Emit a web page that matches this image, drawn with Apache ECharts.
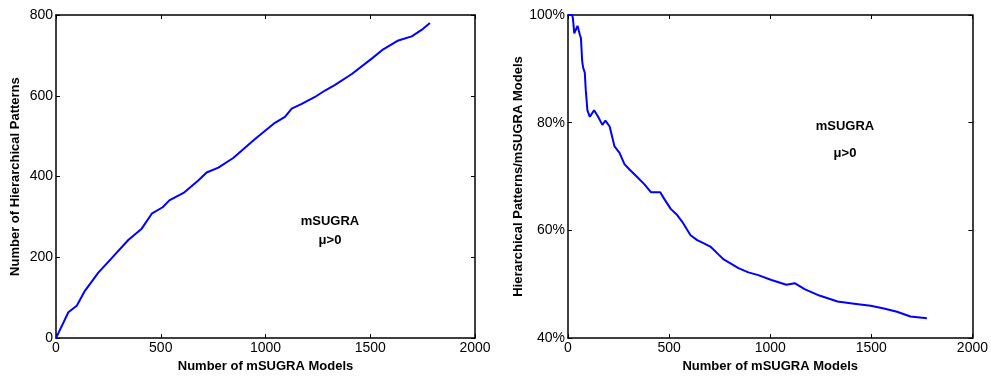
<!DOCTYPE html>
<html>
<head>
<meta charset="utf-8">
<script src="https://cdn.jsdelivr.net/npm/echarts@6/dist/echarts.min.js"></script>
<style>
    html, body { margin: 0; padding: 0; background: #fff; }
    #app-chart { width: 991px; height: 378px; }
</style>
</head>
<body>
<div id="app-chart"></div>
<script>
//======================================================================================================================
// Data
//======================================================================================================================

    var patternModels = [0, 3, 59, 99, 138, 202, 266, 345, 409, 457, 509, 541, 613, 679, 719, 775, 846, 950, 1045, 1093,
        1125, 1173, 1236, 1284, 1332, 1412, 1507, 1562, 1634, 1698, 1745, 1785];
    var patternCounts = [0, 0, 64, 80, 117, 162, 198, 243, 271, 308, 324, 341, 361, 390, 410, 422, 446, 493, 533, 548,
        568, 580, 597, 613, 627, 654, 692, 715, 737, 747, 763, 780];

    var ratioModels = [1, 20, 24, 31, 47, 59, 64, 70, 75, 83, 88, 96, 108, 129, 149, 170, 185, 206, 230, 255, 279, 304,
        337, 377, 410, 456, 475, 508, 541, 565, 606, 639, 672, 704, 745, 770, 843, 892, 941, 1006, 1080, 1121, 1170,
        1243, 1333, 1415, 1497, 1562, 1627, 1693, 1775];
    var ratioPercent = [100, 100, 99.5, 96.6, 98.0, 96.3, 95.7, 91.5, 90.2, 89.3, 86.0, 82.3, 81.1, 82.3, 81.1, 79.6,
        80.4, 79.3, 75.6, 74.4, 72.3, 71.3, 70.1, 68.6, 67.1, 67.1, 65.9, 64.0, 62.8, 61.6, 59.1, 58.2, 57.6, 57.0, 55.5,
        54.6, 53.0, 52.2, 51.7, 50.8, 49.9, 50.2, 49.1, 47.9, 46.8, 46.4, 46.0, 45.5, 44.9, 44.0, 43.7];

    var xTicks = [0, 500, 1000, 1500, 2000];
    var leftTicks = [0, 200, 400, 600, 800];
    var rightTicks = [40, 60, 80, 100];

//======================================================================================================================
// Chart
//======================================================================================================================

    var font = 'Liberation Sans, Arial, sans-serif';
    var labelStyle = { color: '#000', fontFamily: font, fontSize: 14 };
    var nameStyle = { color: '#000', fontFamily: font, fontSize: 13, fontWeight: 'bold' };

    function plain(v) { return String(v); }
    function pct(v) { return v + '%'; }

    function pairs(xs, ys) {
        return xs.map(function(v, i) { return [v, ys[i]]; });
    }

    function xAxis(grid, position, name) {
        return {
            type: 'value', gridIndex: grid, position: position,
            min: xTicks[0], max: xTicks[xTicks.length - 1], interval: 500,
            name: name, nameLocation: 'middle', nameGap: 21, nameTextStyle: nameStyle,
            axisLine: { show: true, onZero: false, lineStyle: { color: '#000', width: 1.5 } },
            axisTick: { show: true, inside: true, length: 4, lineStyle: { color: '#000' } },
            axisLabel: { show: position === 'bottom', margin: 3, formatter: plain, ...labelStyle },
            splitLine: { show: false }
        };
    }

    function yAxis(grid, position, ticks, name, fmt) {
        return {
            type: 'value', gridIndex: grid, position: position,
            min: ticks[0], max: ticks[ticks.length - 1], interval: ticks[1] - ticks[0],
            name: name, nameLocation: 'middle', nameGap: grid === 0 ? 34 : 40, nameTextStyle: nameStyle,
            axisLine: { show: true, onZero: false, lineStyle: { color: '#000', width: 1.5 } },
            axisTick: { show: true, inside: true, length: 4, lineStyle: { color: '#000' } },
            axisLabel: { show: position === 'left', margin: 3, formatter: fmt, ...labelStyle },
            splitLine: { show: false }
        };
    }

    function note(x, y1, y2) {
        var st = { font: 'bold 13px ' + font, fill: '#000', align: 'center', verticalAlign: 'middle' };
        return [
            { type: 'text', x: x, y: y1, style: { text: 'mSUGRA', ...st } },
            { type: 'text', x: x, y: y2, style: { text: '\u03bc>0', ...st } }
        ];
    }

    var chart = echarts.init(document.getElementById('app-chart'));
    chart.setOption({
        backgroundColor: '#fff',
        animation: false,
        grid: [
            { left: 56, top: 15, width: 419, height: 328 },
            { left: 568, top: 15, width: 408, height: 328 }
        ],
        xAxis: [
            xAxis(0, 'bottom', 'Number of mSUGRA Models'),
            xAxis(0, 'top', ''),
            xAxis(1, 'bottom', 'Number of mSUGRA Models'),
            xAxis(1, 'top', '')
        ],
        yAxis: [
            yAxis(0, 'left', leftTicks, 'Number of Hierarchical Patterns', plain),
            yAxis(0, 'right', leftTicks, '', plain),
            yAxis(1, 'left', rightTicks, 'Hierarchical Patterns/mSUGRA Models', pct),
            yAxis(1, 'right', rightTicks, '', pct)
        ],
        series: [
            {
                type: 'line', xAxisIndex: 0, yAxisIndex: 0, data: pairs(patternModels, patternCounts),
                showSymbol: false, lineStyle: { color: '#0000ff', width: 2 }
            },
            {
                type: 'line', xAxisIndex: 2, yAxisIndex: 2, data: pairs(ratioModels, ratioPercent),
                showSymbol: false, lineStyle: { color: '#0000ff', width: 2 }
            }
        ],
        graphic: note(330, 221, 240).concat(note(845, 126, 153))
    });
</script>
</body>
</html>
